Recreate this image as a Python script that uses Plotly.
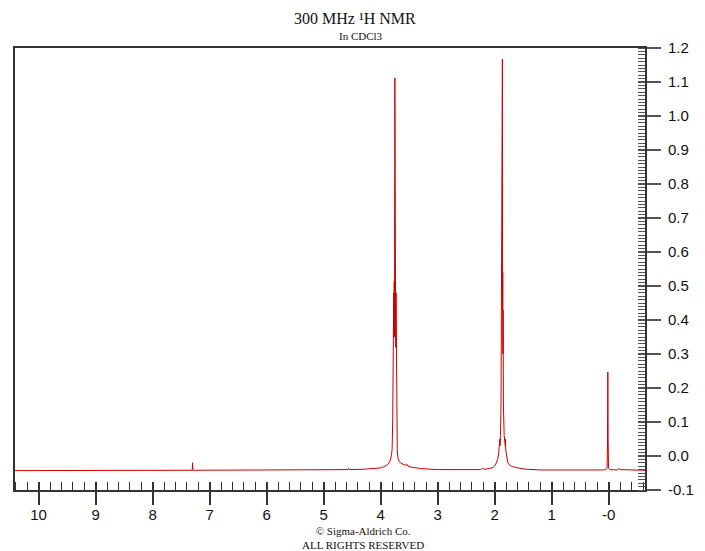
import plotly.graph_objects as go

# Spectrum points (ppm, intensity)
ppm = [10.42, 9.0, 7.8, 7.32, 7.305, 7.30, 7.295, 7.28, 6.5, 5.5, 4.8, 4.6, 4.575, 4.565, 4.55, 4.3,
       4.1, 4.0, 3.97, 3.96, 3.95, 3.90, 3.86, 3.83, 3.81, 3.80, 3.79, 3.785, 3.782, 3.776, 3.772,
       3.768, 3.763, 3.758, 3.752, 3.747, 3.742, 3.737, 3.731, 3.726, 3.72, 3.71, 3.70, 3.68, 3.65,
       3.60, 3.56, 3.545, 3.535, 3.52, 3.45, 3.3, 3.0, 2.6, 2.25, 2.215, 2.205, 2.19, 2.10, 2.03,
       1.99, 1.97, 1.95, 1.93, 1.915, 1.912, 1.908, 1.90, 1.89, 1.885, 1.882, 1.879, 1.875, 1.872,
       1.866, 1.863, 1.860, 1.857, 1.854, 1.848, 1.835, 1.815, 1.812, 1.808, 1.79, 1.77, 1.74, 1.70,
       1.6, 1.45, 1.2, 0.6, 0.1, 0.05, 0.03, 0.022, 0.017, 0.012, 0.005, -0.02, -0.15, -0.175,
       -0.185, -0.20, -0.635]
intensity = [-0.043, -0.043, -0.042, -0.042, -0.042, -0.020, -0.042, -0.042, -0.042, -0.041, -0.041,
             -0.040, -0.040, -0.036, -0.040, -0.039,
             -0.037, -0.035, -0.031, -0.034, -0.032, -0.028, -0.022, -0.012, 0.005, 0.02, 0.1, 0.32,
             0.48, 0.32, 0.48,
             0.35, 0.513, 0.35, 1.112, 0.35, 0.48, 0.32, 0.48, 0.32, 0.1, 0.02, -0.005, -0.015, -0.021,
             -0.026, -0.028, -0.024, -0.028, -0.030, -0.033, -0.037, -0.040, -0.041, -0.040, -0.036,
             -0.039, -0.039, -0.037, -0.034,
             -0.027, -0.020, -0.010, 0.010, 0.030, 0.050, 0.030, 0.060, 0.15, 0.48, 0.28, 0.48, 0.57,
             0.51,
             1.167, 0.43, 0.54, 0.30, 0.43, 0.15, 0.06, 0.03, 0.05, 0.02, 0.0, -0.02, -0.027, -0.031,
             -0.035, -0.039, -0.041, -0.042, -0.041, -0.040, -0.036, 0.05, 0.247, 0.05, -0.035, -0.040,
             -0.041, -0.038,
             -0.037, -0.040, -0.042]

x_major = [10, 9, 8, 7, 6, 5, 4, 3, 2, 1, 0]
x_labels = ["10", "9", "8", "7", "6", "5", "4", "3", "2", "1", "-0"]
y_major = [-0.1, 0.0, 0.1, 0.2, 0.3, 0.4, 0.5, 0.6, 0.7, 0.8, 0.9, 1.0, 1.1, 1.2]
y_labels = ["-0.1", "0.0", "0.1", "0.2", "0.3", "0.4", "0.5", "0.6", "0.7", "0.8", "0.9", "1.0", "1.1", "1.2"]

footer_lines = ["© Sigma-Aldrich Co.", "ALL RIGHTS RESERVED"]

X_RANGE = [10.414, -0.635]
Y_RANGE = [-0.1, 1.2]
AX = "#333333"

# page body has an 8px default margin; figure is sized to fit the window
OFF = 8
PL, PT, PW, PH = 13, 48, 632, 442   # plot area in window pixels


def px(x):
    return (x - PL) / PW


def py(y):
    return (PT + PH - y) / PH


fig = go.Figure()
fig.add_trace(go.Scatter(x=ppm, y=intensity, mode="lines",
                         line=dict(color="#CC0000", width=1), hoverinfo="skip", showlegend=False))
# invisible trace to hold the overlay axes (inner halves of major ticks)
fig.add_trace(go.Scatter(x=[X_RANGE[0]], y=[Y_RANGE[0]], xaxis="x2", yaxis="y2", mode="markers",
                         marker=dict(opacity=0), hoverinfo="skip", showlegend=False))

tickfont = dict(family="Liberation Sans, Arial", size=15, color="#111111")
serif = "Liberation Serif, Times New Roman"

W, H = 705 - OFF, 551 - OFF
fig.update_layout(
    width=W, height=H,
    margin=dict(l=PL - OFF, r=W - (PL - OFF) - PW, t=PT - OFF, b=H - (PT - OFF) - PH),
    paper_bgcolor="white", plot_bgcolor="white",
    xaxis=dict(range=X_RANGE, tickvals=x_major, ticktext=x_labels, ticks="outside", ticklen=13,
               tickwidth=1.5, tickcolor=AX, showline=True, linecolor=AX, linewidth=2, mirror=True,
               showgrid=False, zeroline=False, tickfont=tickfont, ticklabelstandoff=-3,
               minor=dict(dtick=0.2, tick0=0, ticks="inside", ticklen=8, tickwidth=1.2,
                          tickcolor=AX, showgrid=False)),
    yaxis=dict(range=Y_RANGE, side="right", tickvals=y_major, ticktext=y_labels, ticks="outside",
               ticklen=14, tickwidth=1.5, tickcolor="#555555", showline=True, linecolor=AX,
               linewidth=2, mirror=True, showgrid=False, zeroline=False, tickfont=tickfont,
               ticklabelstandoff=4,
               minor=dict(dtick=0.01, tick0=0, ticks="inside", ticklen=7, tickwidth=1,
                          tickcolor="#555555", showgrid=False)),
    xaxis2=dict(range=X_RANGE, overlaying="x", anchor="y2", side="bottom", tickvals=x_major,
                ticks="inside", ticklen=8, tickwidth=1.5, tickcolor=AX, showticklabels=False,
                showline=False, showgrid=False, zeroline=False),
    yaxis2=dict(range=Y_RANGE, overlaying="y", anchor="x2", side="right", tickvals=y_major,
                ticks="inside", ticklen=7, tickwidth=1.5, tickcolor="#555555",
                showticklabels=False, showline=False, showgrid=False, zeroline=False),
    annotations=[
        dict(text="300 MHz ¹H NMR", x=px(354), y=py(18), xref="paper", yref="paper",
             showarrow=False, xanchor="center", yanchor="middle",
             font=dict(family=serif, size=16, color="#111111")),
        dict(text="In CDCl3", x=px(360), y=py(36), xref="paper", yref="paper",
             showarrow=False, xanchor="center", yanchor="middle",
             font=dict(family=serif, size=11, color="#111111")),
        dict(text="<br>".join(footer_lines), x=px(362), y=py(537.5), xref="paper", yref="paper",
             showarrow=False, xanchor="center", yanchor="middle", align="center", borderpad=0,
             font=dict(family=serif, size=11, color="#111111")),
    ],
)

fig.write_html("out.html")
